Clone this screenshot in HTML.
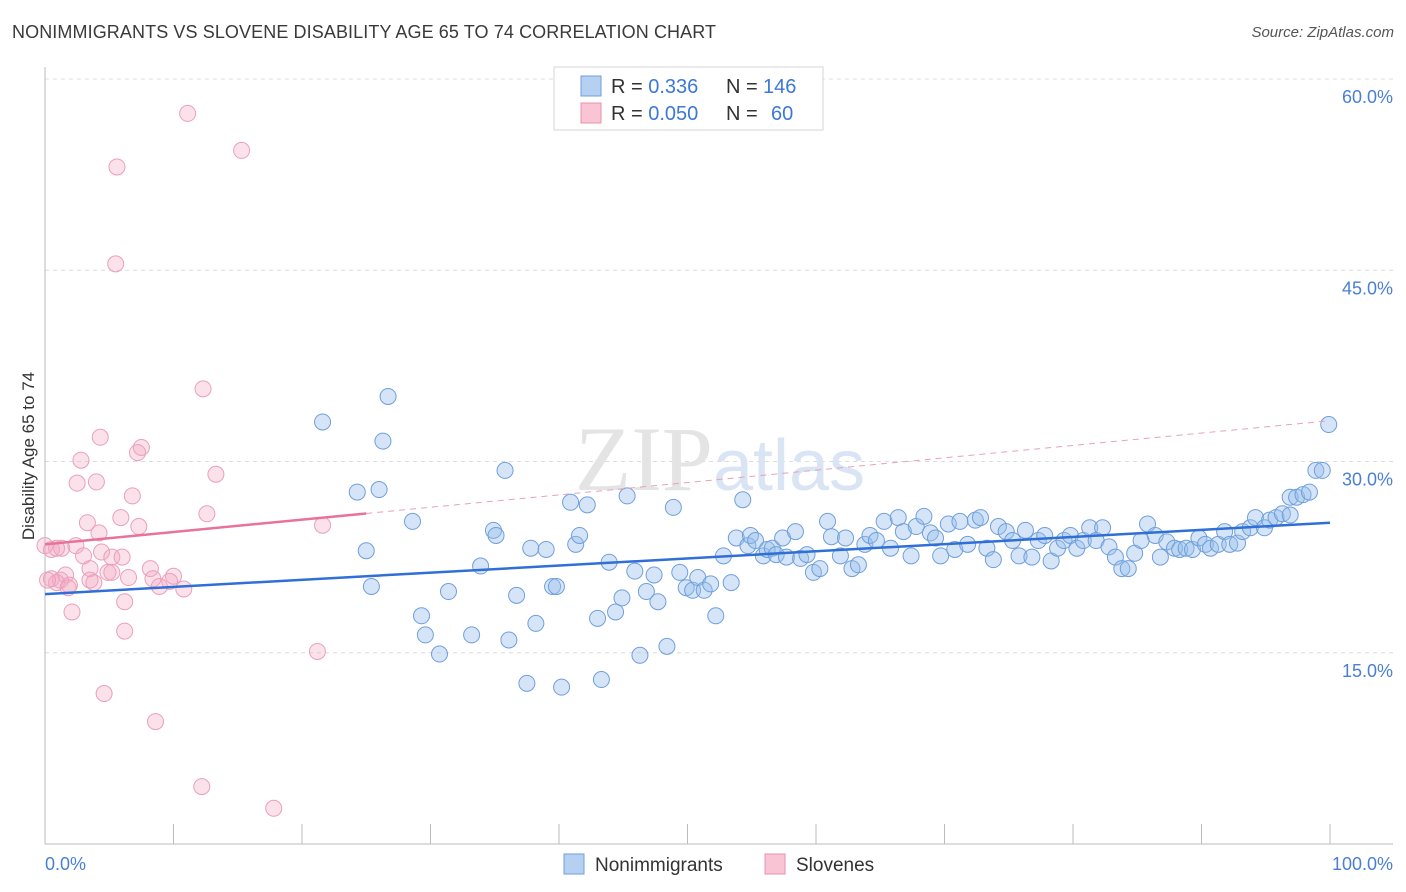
<!DOCTYPE html>
<html><head><meta charset="utf-8">
<style>
body{margin:0;background:#fff;font-family:"Liberation Sans",sans-serif;}
#wrap{position:relative;width:1406px;height:892px;overflow:hidden;}
.title{position:absolute;left:12px;top:22px;font-size:18px;color:#3a3a3a;letter-spacing:0.1px}
.source{position:absolute;right:12px;top:24px;font-size:15px;color:#555;font-style:italic}
</style></head>
<body>
<div id="wrap">
<div class="title">NONIMMIGRANTS VS SLOVENE DISABILITY AGE 65 TO 74 CORRELATION CHART</div>
<div class="source">Source: ZipAtlas.com</div>
<svg id="chart" width="1406" height="892" style="position:absolute;left:0;top:0"></svg>
</div>
<script>
const blueX=[21.6,26.7,26.3,24.3,26.0,25.0,25.4,28.6,29.3,29.6,30.7,31.4,33.2,33.9,34.9,35.1,35.8,36.1,36.7,37.5,37.8,38.2,39.0,39.5,39.8,40.2,40.9,41.3,41.6,42.2,43.0,43.3,43.9,44.4,44.9,45.3,45.9,46.3,46.8,47.4,47.7,48.4,48.9,49.4,49.9,50.4,50.8,51.3,51.8,52.2,52.8,53.4,53.8,54.3,54.7,54.9,55.3,55.9,56.2,56.6,56.9,57.4,57.7,58.4,58.8,59.3,59.8,60.3,60.9,61.2,61.9,62.3,62.8,63.3,63.8,64.2,64.7,65.3,65.8,66.4,66.8,67.4,67.8,68.4,68.9,69.3,69.7,70.3,70.8,71.2,71.8,72.4,72.8,73.3,73.8,74.2,74.8,75.3,75.8,76.3,76.8,77.3,77.8,78.3,78.8,79.3,79.8,80.3,80.8,81.3,81.8,82.3,82.8,83.3,83.8,84.3,84.8,85.3,85.8,86.4,86.8,87.3,87.9,88.3,88.8,89.3,89.8,90.3,90.7,91.3,91.8,92.2,92.8,93.2,93.8,94.2,94.9,95.3,95.8,96.3,96.9,97.4,97.9,98.4,98.9,99.4,99.9,96.9];
const blueY=[33.1,35.1,31.6,27.6,27.8,23.0,20.2,25.3,17.9,16.4,14.9,19.8,16.4,21.8,24.6,24.2,29.3,16.0,19.5,12.6,23.2,17.3,23.1,20.2,20.2,12.3,26.8,23.5,24.2,26.6,17.7,12.9,22.1,18.2,19.3,27.3,21.4,14.8,19.8,21.1,19.0,15.5,26.4,21.3,20.1,19.9,20.9,19.9,20.4,17.9,22.6,20.5,24.0,27.0,23.4,24.2,23.8,22.6,23.1,23.2,22.7,24.0,22.5,24.5,22.4,22.7,21.3,21.6,25.3,24.1,22.6,24.0,21.6,21.9,23.5,24.2,23.8,25.3,23.2,25.6,24.5,22.6,24.9,25.7,24.4,24.0,22.6,25.1,23.1,25.3,23.5,25.4,25.6,23.2,22.3,24.9,24.5,23.8,22.6,24.6,22.5,23.8,24.2,22.2,23.2,23.8,24.2,23.2,23.8,24.8,23.8,24.8,23.3,22.5,21.6,21.6,22.8,23.8,25.1,24.2,22.5,23.7,23.2,23.1,23.2,23.1,24.0,23.5,23.2,23.5,24.5,23.5,23.6,24.5,24.8,25.6,24.8,25.4,25.6,25.9,27.2,27.2,27.4,27.6,29.3,29.3,32.9,25.8];
const pinkX=[11.1,15.3,5.6,5.5,12.3,4.3,7.5,7.2,2.8,13.3,2.5,4.0,6.8,12.6,5.9,3.3,7.3,21.6,4.2,2.4,0.5,1.3,0.9,4.4,3.0,5.2,6.0,3.5,8.2,4.9,5.2,1.6,10.0,6.5,8.4,0.5,3.5,1.2,9.7,3.8,0.9,1.9,8.9,10.8,1.8,6.2,2.1,6.2,21.2,4.6,8.6,12.2,17.8,0,0.2];
const pinkY=[57.3,54.4,53.1,45.5,35.7,31.9,31.1,30.7,30.1,29.0,28.3,28.4,27.3,25.9,25.6,25.2,24.9,25.0,24.4,23.4,23.1,23.2,23.2,22.9,22.6,22.5,22.5,21.6,21.6,21.3,21.3,21.1,21.0,20.9,20.8,20.8,20.7,20.7,20.6,20.5,20.5,20.3,20.2,20.0,20.1,19.0,18.2,16.7,15.1,11.8,9.6,4.5,2.8,23.4,20.7];
const blueLine=[19.6,25.2];   // y at x=0, y at x=100
const pinkLine=[23.5,33.2];
const pinkSolidEnd=25;
const yTicks=[15,30,45,60];
const yTickLabels=["15.0%","30.0%","45.0%","60.0%"];
const xTickLabels=["0.0%","100.0%"];

const svg=document.getElementById('chart');
const NS='http://www.w3.org/2000/svg';
const X0=45,X1=1330,Y0=844,PXY=12.75;
function sx(v){return X0+(X1-X0)*v/100;}
function sy(v){return Y0-v*PXY;}
function mk(tag,attrs){const e=document.createElementNS(NS,tag);for(const k in attrs)e.setAttribute(k,attrs[k]);svg.appendChild(e);return e;}

// gridlines & y labels
yTicks.forEach((t,i)=>{
  const g=mk('line',{x1:X0,x2:1393,y1:sy(t),y2:sy(t),stroke:'#dcdcdc','stroke-dasharray':'4,4'});
  
  
  const l=mk('text',{x:1393,y:sy(t)+24,'text-anchor':'end','font-size':18,fill:'#4a7fd4','font-family':'Liberation Sans, sans-serif'});
  l.textContent=yTickLabels[i];
  
  
});
// axes
let a=mk('line',{x1:X0,x2:X0,y1:67,y2:Y0,stroke:'#bbb'});


a=mk('line',{x1:X0,x2:1393,y1:Y0,y2:Y0,stroke:'#bbb'});


for(let i=0;i<=10;i++){
  const t=mk('line',{x1:sx(i*10),x2:sx(i*10),y1:Y0,y2:Y0-20,stroke:'#bbb'});
  
  
}
[[0,'start',X0],[1,'end',1393]].forEach(([i,anc,x])=>{
  const l=mk('text',{x:x,y:870,'text-anchor':anc,'font-size':18,fill:'#4a7fd4','font-family':'Liberation Sans, sans-serif'});
  l.textContent=xTickLabels[i];
  
  
});
// y axis title
let yt=mk('text',{x:0,y:0,transform:'translate(34,456) rotate(-90)','text-anchor':'middle','font-size':17,fill:'#333','font-family':'Liberation Sans, sans-serif'});
yt.textContent='Disability Age 65 to 74';


// watermark
let wm=mk('text',{x:720,y:490,'text-anchor':'middle','font-size':92,fill:'#e9eef5','font-family':'Liberation Serif, serif'});
wm.innerHTML='<tspan fill="#e4e4e4">ZIP</tspan><tspan fill="#d9e5f4" font-family="Liberation Sans, sans-serif" font-size="72">atlas</tspan>';



// points
pinkX.forEach((x,i)=>{
  const c=mk('circle',{cx:sx(x),cy:sy(pinkY[i]),r:8,fill:'rgba(244,170,196,0.35)',stroke:'#eaa0bb','stroke-width':1});
  
  
});
blueX.forEach((x,i)=>{
  const c=mk('circle',{cx:sx(x),cy:sy(blueY[i]),r:8,fill:'rgba(150,190,235,0.4)',stroke:'#6f9fdc','stroke-width':1});
  
  
});
// trend lines
function ly(line,x){return line[0]+(line[1]-line[0])*x/100;}
let tl=mk('line',{x1:sx(pinkSolidEnd),y1:sy(ly(pinkLine,pinkSolidEnd)),x2:sx(100),y2:sy(ly(pinkLine,100)),stroke:'#e8a0b8','stroke-width':1,'stroke-dasharray':'6,5'});


tl=mk('line',{x1:sx(0),y1:sy(ly(pinkLine,0)),x2:sx(pinkSolidEnd),y2:sy(ly(pinkLine,pinkSolidEnd)),stroke:'#e8739a','stroke-width':2.5});


tl=mk('line',{x1:sx(0),y1:sy(ly(blueLine,0)),x2:sx(100),y2:sy(ly(blueLine,100)),stroke:'#2f6fd6','stroke-width':2.5});



// legend box
let lb=mk('rect',{x:554,y:67,width:269,height:63,fill:'#fff',stroke:'#d5d5d5'});


function legRow(y,fill,stroke,r,n,name){
  const s=mk('rect',{x:581,y:y-10,width:20,height:20,fill:fill,stroke:stroke});
  
  
  const t=mk('text',{x:611,y:y+7,'font-size':20,fill:'#333','font-family':'Liberation Sans, sans-serif'});
  t.innerHTML='R = <tspan fill="#3b78d8">'+r+'</tspan><tspan x="726">N = </tspan><tspan fill="#3b78d8" x="'+(n.length>2?763:771)+'">'+n+'</tspan>';
  
  
}
legRow(86,'#b6d0f2','#6f9fdc',' 0.336','146','nonimmigrants');
legRow(113,'#f9c5d5','#e891ad','0.050','60','slovenes');
// bottom legend
function bLeg(x,fill,stroke,label,name){
  const s=mk('rect',{x:x,y:854,width:20,height:20,fill:fill,stroke:stroke});
  
  
  const t=mk('text',{x:x+31,y:871,'font-size':19,fill:'#333','font-family':'Liberation Sans, sans-serif'});
  t.textContent=label;
  
  
}
bLeg(564,'#b6d0f2','#6f9fdc','Nonimmigrants','nonimmigrants');
bLeg(765,'#f9c5d5','#e891ad','Slovenes','slovenes');
</script>
</body></html>
